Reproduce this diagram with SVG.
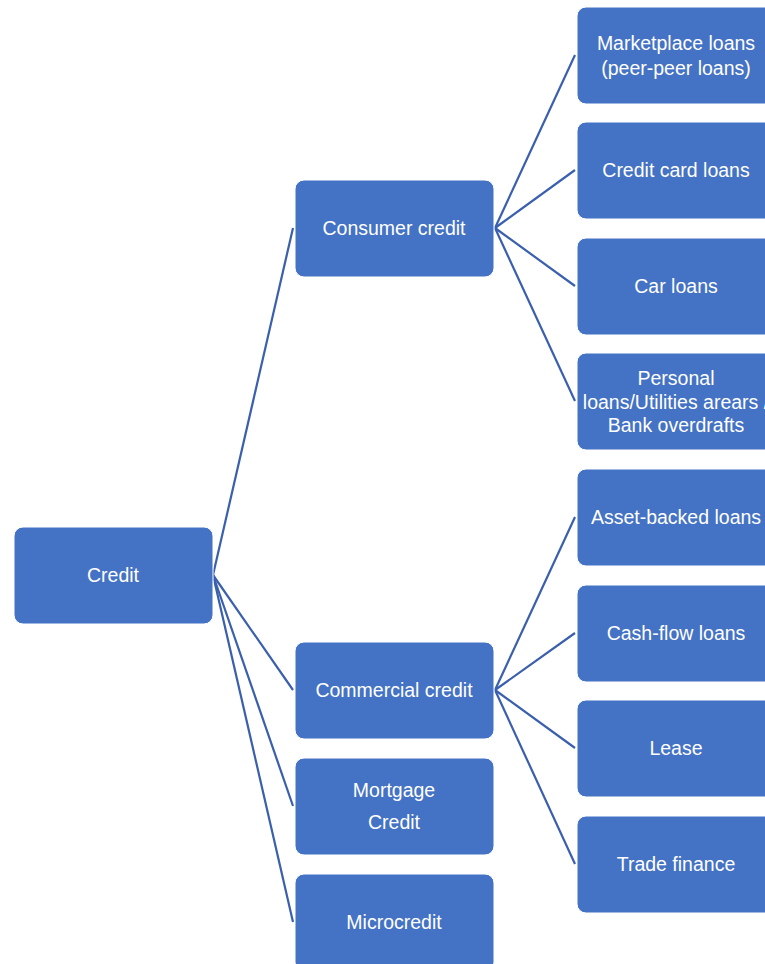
<svg xmlns="http://www.w3.org/2000/svg" width="765" height="964" viewBox="0 0 765 964">
  <style>
    .box { fill: #4472C4; stroke: #FFFFFF; stroke-width: 1; }
    .lbl { font-family: "Liberation Sans", Arial, sans-serif; font-size: 19.5px; fill: #FFFFFF; text-anchor: middle; }
    .link { stroke: #3A5FAD; stroke-width: 2.2; fill: none; }
  </style>
  <rect width="765" height="964" fill="#FFFFFF"/>

  <!-- connectors -->
  <g id="connectors">
    <line class="link" x1="213" y1="575" x2="293" y2="228"/>
    <line class="link" x1="213" y1="575" x2="293" y2="690"/>
    <line class="link" x1="213" y1="575" x2="293" y2="806"/>
    <line class="link" x1="213" y1="575" x2="293" y2="922"/>
    <line class="link" x1="495" y1="228" x2="575" y2="55"/>
    <line class="link" x1="495" y1="228" x2="575" y2="170"/>
    <line class="link" x1="495" y1="228" x2="575" y2="286"/>
    <line class="link" x1="495" y1="228" x2="575" y2="401"/>
    <line class="link" x1="495" y1="690" x2="575" y2="517"/>
    <line class="link" x1="495" y1="690" x2="575" y2="633"/>
    <line class="link" x1="495" y1="690" x2="575" y2="748"/>
    <line class="link" x1="495" y1="690" x2="575" y2="864"/>
  </g>

  <!-- root -->
  <g id="credit">
    <rect class="box" x="14" y="527" width="199" height="97" rx="9"/>
    <text class="lbl" x="113" y="582">Credit</text>
  </g>

  <!-- second level -->
  <g id="consumer-credit">
    <rect class="box" x="295" y="180" width="199" height="97" rx="9"/>
    <text class="lbl" x="394" y="235">Consumer credit</text>
  </g>
  <g id="commercial-credit">
    <rect class="box" x="295" y="642" width="199" height="97" rx="9"/>
    <text class="lbl" x="394" y="697">Commercial credit</text>
  </g>
  <g id="mortgage-credit">
    <rect class="box" x="295" y="758" width="199" height="97" rx="9"/>
    <text class="lbl" x="394" y="797">Mortgage</text>
    <text class="lbl" x="394" y="829">Credit</text>
  </g>
  <g id="microcredit">
    <rect class="box" x="295" y="874" width="199" height="97" rx="9"/>
    <text class="lbl" x="394" y="929">Microcredit</text>
  </g>

  <!-- consumer credit products -->
  <g id="marketplace-loans">
    <rect class="box" x="577" y="7" width="199" height="97" rx="9"/>
    <text class="lbl" x="676" y="50">Marketplace loans</text>
    <text class="lbl" x="676" y="75">(peer-peer loans)</text>
  </g>
  <g id="credit-card-loans">
    <rect class="box" x="577" y="122" width="199" height="97" rx="9"/>
    <text class="lbl" x="676" y="177">Credit card loans</text>
  </g>
  <g id="car-loans">
    <rect class="box" x="577" y="238" width="199" height="97" rx="9"/>
    <text class="lbl" x="676" y="293">Car loans</text>
  </g>
  <g id="personal-loans">
    <rect class="box" x="577" y="353" width="199" height="97" rx="9"/>
    <text class="lbl" x="676" y="385">Personal</text>
    <text class="lbl" x="676" y="409">loans/Utilities arears /</text>
    <text class="lbl" x="676" y="432">Bank overdrafts</text>
  </g>

  <!-- commercial credit products -->
  <g id="asset-backed-loans">
    <rect class="box" x="577" y="469" width="199" height="97" rx="9"/>
    <text class="lbl" x="676" y="524">Asset-backed loans</text>
  </g>
  <g id="cash-flow-loans">
    <rect class="box" x="577" y="585" width="199" height="97" rx="9"/>
    <text class="lbl" x="676" y="640">Cash-flow loans</text>
  </g>
  <g id="lease">
    <rect class="box" x="577" y="700" width="199" height="97" rx="9"/>
    <text class="lbl" x="676" y="755">Lease</text>
  </g>
  <g id="trade-finance">
    <rect class="box" x="577" y="816" width="199" height="97" rx="9"/>
    <text class="lbl" x="676" y="871">Trade finance</text>
  </g>
</svg>
